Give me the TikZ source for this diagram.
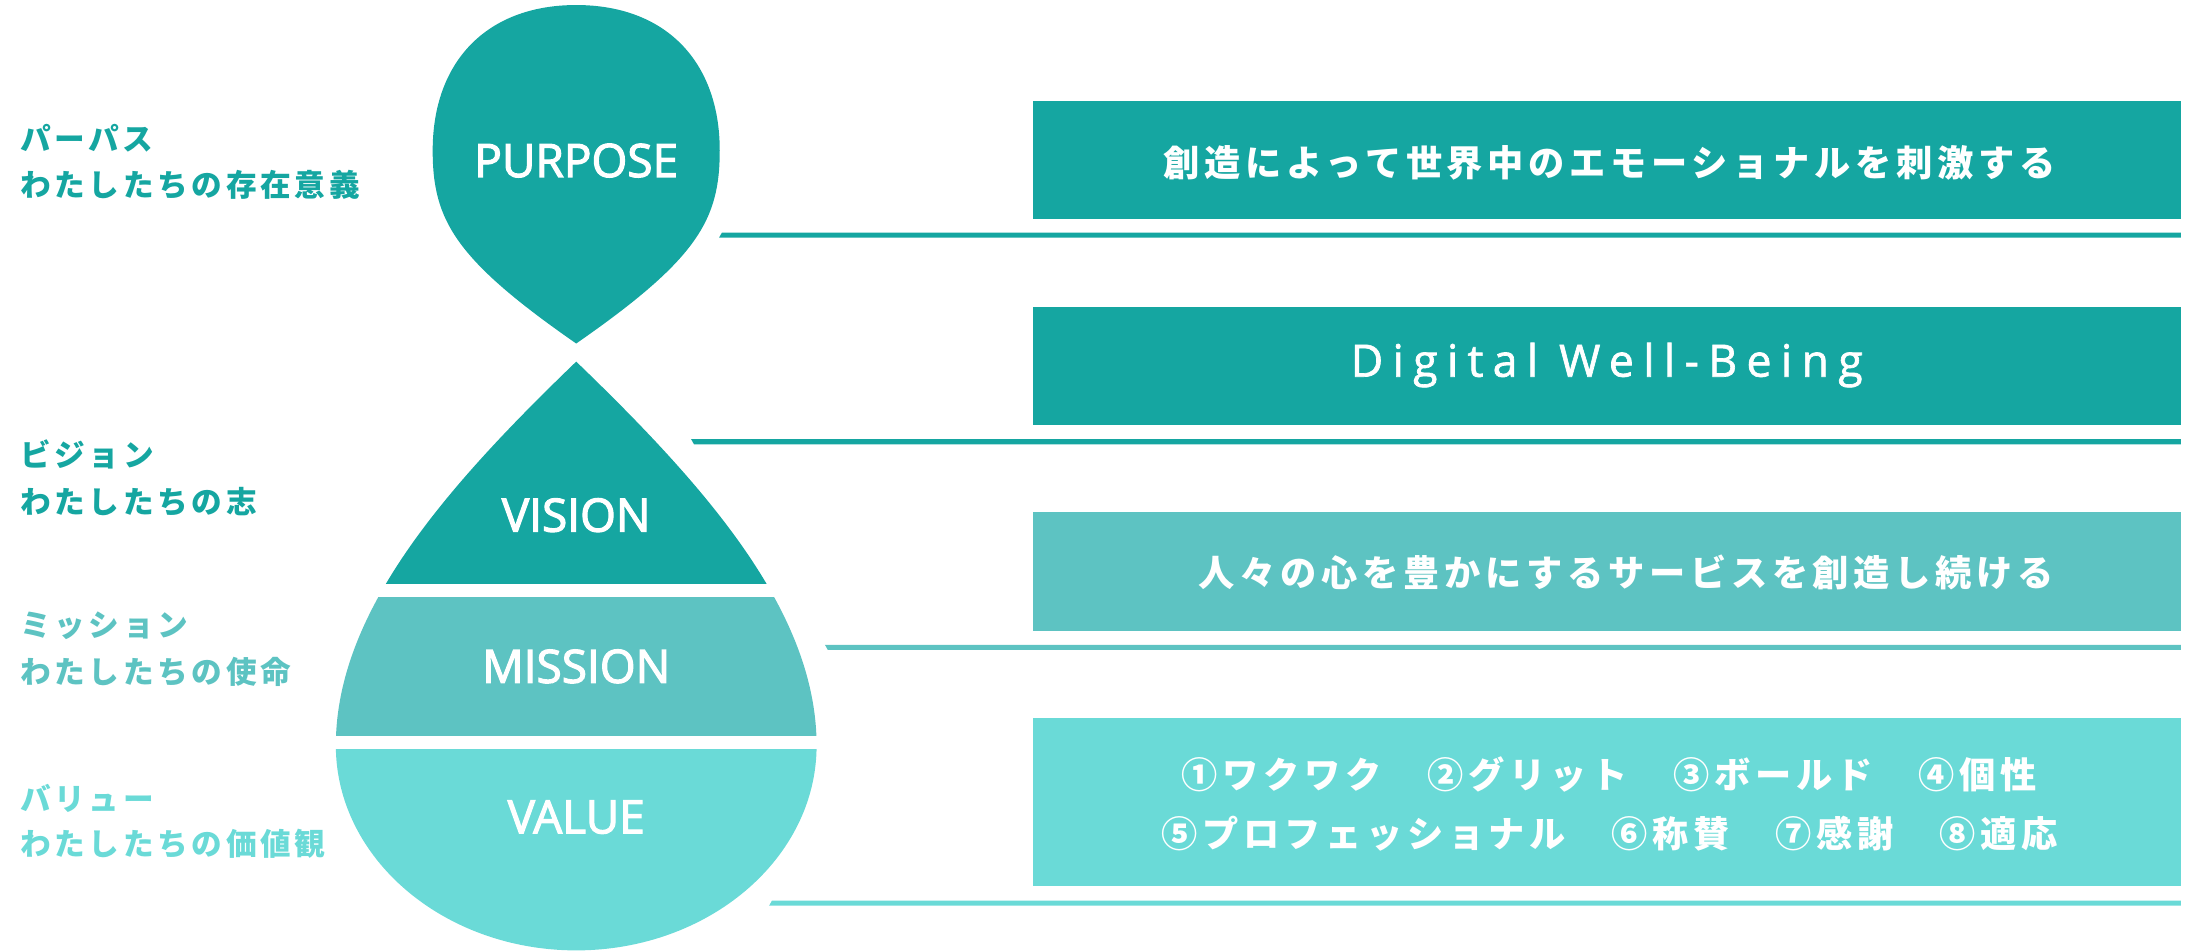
\documentclass[tikz,border=0pt]{standalone}
\usepackage{fontspec}
\newfontfamily\jp{Noto Sans CJK JP}
\newfontfamily\os[FakeBold=2.5]{Open Sans}
\newfontfamily\osl[FakeBold=1.5]{Open Sans}
\definecolor{cDark}{RGB}{21,166,161}
\definecolor{cMid}{RGB}{93,195,194}
\definecolor{cLight}{RGB}{106,218,215}
\tikzset{
  lbl/.style={anchor=west, inner sep=0pt, font=\jp\bfseries\fontsize{11}{13}\selectfont\addfontfeature{LetterSpace=12}},
  dropname/.style={anchor=base, inner sep=0pt, text=white, font=\os\fontsize{16.5}{18}\selectfont},
  boxtxt/.style={anchor=center, inner sep=0pt, text=white, font=\jp\bfseries\fontsize{13}{15}\selectfont\addfontfeature{LetterSpace=13}},
  latintxt/.style={anchor=base, inner sep=0pt, text=white, font=\osl\fontsize{16}{18}\selectfont\addfontfeature{LetterSpace=21}},
}
\def\upperdrop{(413.5,246.5) .. controls (500.5,186) and (516.5,158) .. (516.5,108)
  .. controls (516.5,44) and (477.5,3.6) .. (413.5,3.6)
  .. controls (349.5,3.6) and (310.5,44) .. (310.5,108)
  .. controls (310.5,158) and (326.5,186) .. (413.5,246.5) -- cycle}
\def\lowerdrop{(413.5,259.5) .. controls (508.5,351) and (586,440) .. (586,535)
  .. controls (586,616) and (508.5,682) .. (413.5,682)
  .. controls (318.5,682) and (241,616) .. (241,535)
  .. controls (241,440) and (318.5,351) .. (413.5,259.5) -- cycle}
\begin{document}
\begin{tikzpicture}[x=0.5pt,y=-0.5pt]
\useasboundingbox (0,0) rectangle (1568,682);
% boxes
\fill[cDark]  (741,72.5) rectangle (1565,157.5);
\fill[cDark]  (741,220) rectangle (1565,305);
\fill[cMid]   (741,367.5) rectangle (1565,452.5);
\fill[cLight] (741,515.5) rectangle (1565,636);
% horizontal rules
\fill[cDark]  (518,167) -- (1565,167) -- (1565,170.6) -- (516,170.6) -- cycle;
\fill[cDark]  (496,315.2) -- (1565,315.2) -- (1565,318.8) -- (498,318.8) -- cycle;
\fill[cMid]   (592,462.7) -- (1565,462.7) -- (1565,466.3) -- (594,466.3) -- cycle;
\fill[cLight] (554,646.2) -- (1565,646.2) -- (1565,649.8) -- (552,649.8) -- cycle;
% drops
\fill[cDark] \upperdrop;
\begin{scope}
  \clip (200,250) rectangle (650,419);
  \fill[cDark] \lowerdrop;
\end{scope}
\begin{scope}
  \clip (200,428.5) rectangle (650,527.5);
  \fill[cMid] \lowerdrop;
\end{scope}
\begin{scope}
  \clip (200,537.5) rectangle (650,690);
  \fill[cLight] \lowerdrop;
\end{scope}
% drop names
\node[dropname] (purpose) at (413.5,127) {PURPOSE};
\node[dropname] (vision)  at (413.5,381.5) {VISION};
\node[dropname] (mission) at (413.5,490) {MISSION};
\node[dropname] (value)   at (413.5,598) {VALUE};
% left labels
\node[lbl, text=cDark]  (lp1) at (14,99)    {パーパス};
\node[lbl, text=cDark]  (lp2) at (14,132.7) {わたしたちの存在意義};
\node[lbl, text=cDark]  (lv1) at (14,326)   {ビジョン};
\node[lbl, text=cDark]  (lv2) at (14,360)   {わたしたちの志};
\node[lbl, text=cMid]   (lm1) at (14,449)   {ミッション};
\node[lbl, text=cMid]   (lm2) at (14,482)   {わたしたちの使命};
\node[lbl, text=cLight] (lw1) at (14,573)   {バリュー};
\node[lbl, text=cLight] (lw2) at (14,605.5) {わたしたちの価値観};
% box texts
\node[boxtxt]   (t1) at (1155,116.6) {創造によって世界中のエモーショナルを刺激する};
\node[latintxt] (t2) at (1153,270.3) {Digital Well-Being};
\node[boxtxt]   (t3) at (1167,411)   {人々の心を豊かにするサービスを創造し続ける};
\node[boxtxt]   (t4) at (1155,556)   {①ワクワク　②グリット　③ボールド　④個性};
\node[boxtxt]   (t5) at (1155,598)   {⑤プロフェッショナル　⑥称賛　⑦感謝　⑧適応};
\end{tikzpicture}
\end{document}
